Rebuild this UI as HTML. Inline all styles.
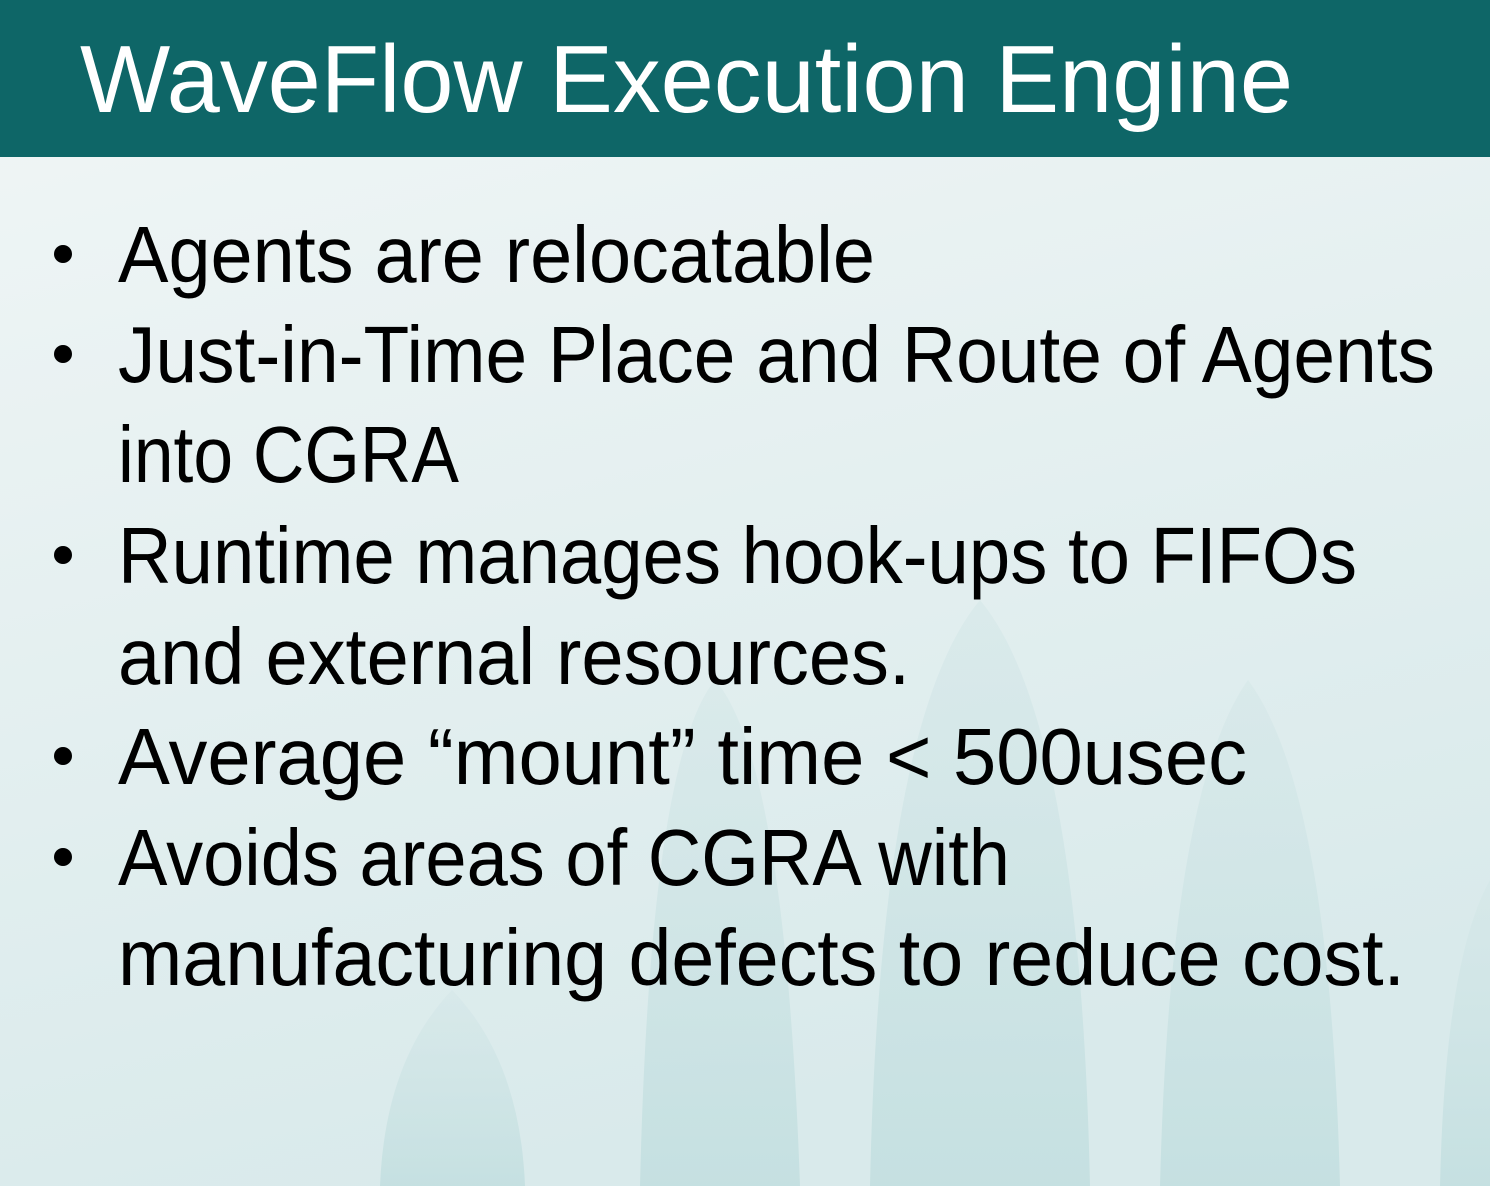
<!DOCTYPE html>
<html><head><meta charset="utf-8"><style>
html,body{margin:0;padding:0;width:1490px;height:1186px;overflow:hidden}
</style></head><body>
<svg width="1490" height="1186" xmlns="http://www.w3.org/2000/svg">
<defs>
<linearGradient id="bg" x1="0" y1="0" x2="0.3" y2="1">
<stop offset="0" stop-color="#f1f6f6"/><stop offset="1" stop-color="#d9eaeb"/>
</linearGradient>
<linearGradient id="leaf" x1="0" y1="0" x2="0" y2="1">
<stop offset="0" stop-color="#d3e6e7" stop-opacity="0.5"/><stop offset="1" stop-color="#c3dfe0" stop-opacity="0.9"/>
</linearGradient>
</defs>
<rect width="1490" height="1186" fill="url(#bg)"/>
<path d="M640 1186 Q650 760 715 680 Q785 760 800 1186Z" fill="url(#leaf)"/>
<path d="M870 1186 Q880 720 980 600 Q1080 720 1090 1186Z" fill="url(#leaf)"/>
<path d="M1160 1186 Q1170 790 1248 680 Q1330 790 1340 1186Z" fill="url(#leaf)"/>
<path d="M380 1186 Q385 1060 452 990 Q520 1060 525 1186Z" fill="url(#leaf)"/>
<path d="M1440 1186 Q1445 960 1490 880 L1490 1186Z" fill="url(#leaf)"/>
<rect width="1490" height="157" fill="#0e6667"/>
<text x="80" y="112" font-family="Liberation Sans, sans-serif" font-size="96" fill="#ffffff" textLength="1213" lengthAdjust="spacingAndGlyphs">WaveFlow Execution Engine</text>
<g font-family="Liberation Sans, sans-serif" font-size="80" fill="#000">
<text x="118" y="282" textLength="757" lengthAdjust="spacingAndGlyphs">Agents are relocatable</text>
<text x="118" y="382" textLength="1317" lengthAdjust="spacingAndGlyphs">Just-in-Time Place and Route of Agents</text>
<text x="118" y="482" textLength="341" lengthAdjust="spacingAndGlyphs">into CGRA</text>
<text x="118" y="583" textLength="1239" lengthAdjust="spacingAndGlyphs">Runtime manages hook-ups to FIFOs</text>
<text x="118" y="684" textLength="792" lengthAdjust="spacingAndGlyphs">and external resources.</text>
<text x="118" y="784" textLength="1129" lengthAdjust="spacingAndGlyphs">Average “mount” time &lt; 500usec</text>
<text x="118" y="885" textLength="892" lengthAdjust="spacingAndGlyphs">Avoids areas of CGRA with</text>
<text x="118" y="985" textLength="1287" lengthAdjust="spacingAndGlyphs">manufacturing defects to reduce cost.</text>
</g>
<g fill="#000">
<circle cx="63" cy="254" r="9"/>
<circle cx="63" cy="354" r="9"/>
<circle cx="63" cy="555" r="9"/>
<circle cx="63" cy="756" r="9"/>
<circle cx="63" cy="857" r="9"/>
</g>
</svg>
</body></html>
